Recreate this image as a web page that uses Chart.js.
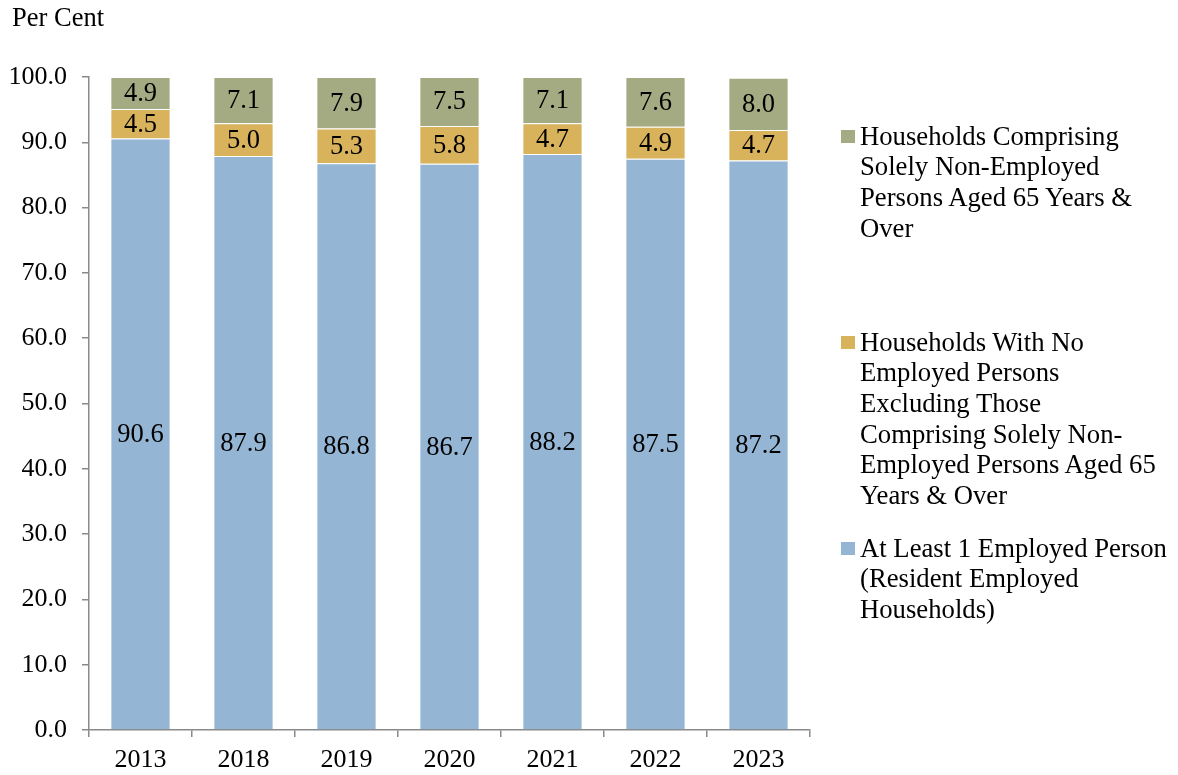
<!DOCTYPE html>
<html>
<head>
<meta charset="utf-8">
<script src="https://cdn.jsdelivr.net/npm/chart.js@4/dist/chart.umd.min.js"></script>
<style>
  html, body { margin: 0; padding: 0; background: #fff; }
  #wrap { position: relative; width: 1178px; height: 775px; font-family: "Liberation Serif", "Times New Roman", serif; color: #000; }
  canvas { position: absolute; left: 0; top: 0; }
  .ytitle { position: absolute; left: 12px; top: 2px; font-size: 26.5px; line-height: 30px; }
  .leg { position: absolute; left: 860px; font-size: 26.7px; line-height: 30.7px; white-space: nowrap; }
  .sw { position: absolute; left: -19px; top: 9px; width: 14px; height: 13px; }
</style>
</head>
<body>
<div id="wrap">
  <canvas id="c" width="1178" height="775"></canvas>
  <div class="ytitle">Per Cent</div>
  <div id="legend"></div>
</div>
<script>
const categories = ["2013", "2018", "2019", "2020", "2021", "2022", "2023"];
const employed = [90.6, 87.9, 86.8, 86.7, 88.2, 87.5, 87.2];
const noEmployedExcl = [4.5, 5.0, 5.3, 5.8, 4.7, 4.9, 4.7];
const solelyElderly = [4.9, 7.1, 7.9, 7.5, 7.1, 7.6, 8.0];
const seriesNames = [
  "At Least 1 Employed Person (Resident Employed Households)",
  "Households With No Employed Persons Excluding Those Comprising Solely Non-Employed Persons Aged 65 Years & Over",
  "Households Comprising Solely Non-Employed Persons Aged 65 Years & Over"
];
const legendLines = [
  ["At Least 1 Employed Person", "(Resident Employed", "Households)"],
  ["Households With No", "Employed Persons", "Excluding Those", "Comprising Solely Non-", "Employed Persons Aged 65", "Years & Over"],
  ["Households Comprising", "Solely Non-Employed", "Persons Aged 65 Years &", "Over"]
];
const colors = ["#94B5D3", "#D9B25C", "#A4AA82"];
const legendTops = [548, 342, 136];

// HTML legend
const lg = document.getElementById('legend');
[2, 1, 0].forEach(i => {
  const d = document.createElement('div');
  d.className = 'leg';
  d.style.top = (legendTops[i] - 15.35) + 'px';
  const sw = document.createElement('span');
  sw.className = 'sw';
  sw.style.background = colors[i];
  d.appendChild(sw);
  d.insertAdjacentHTML('beforeend', legendLines[i].map(s => s.replace(/&/g, '&amp;')).join('<br>'));
  lg.appendChild(d);
});

const valueLabels = {
  id: 'valueLabels',
  afterDatasetsDraw(chart) {
    const ctx = chart.ctx;
    ctx.save();
    ctx.font = '26.5px "Liberation Serif", serif';
    ctx.fillStyle = '#000';
    ctx.textAlign = 'center';
    ctx.textBaseline = 'middle';
    chart.data.datasets.forEach((ds, di) => {
      const meta = chart.getDatasetMeta(di);
      meta.data.forEach((bar, i) => {
        const y = (bar.y + bar.base) / 2;
        ctx.fillText(ds.data[i].toFixed(1), bar.x, y + 1);
      });
    });
    ctx.restore();
  }
};

const axisColor = '#8a8a8a';
new Chart(document.getElementById('c'), {
  type: 'bar',
  data: {
    labels: categories,
    datasets: [
      { label: seriesNames[0], data: employed, backgroundColor: colors[0] },
      { label: seriesNames[1], data: noEmployedExcl, backgroundColor: colors[1] },
      { label: seriesNames[2], data: solelyElderly, backgroundColor: colors[2] }
    ].map(d => Object.assign(d, { borderColor: 'rgba(255,255,255,0.6)', borderWidth: 1, categoryPercentage: 1, barPercentage: 0.585 }))
  },
  options: {
    responsive: false,
    animation: false,
    layout: { padding: { left: 0, right: 368, top: 77, bottom: 0 } },
    plugins: { legend: { display: false }, tooltip: { enabled: false } },
    scales: {
      x: {
        stacked: true,
        afterFit(s) { s.height = 45; },
        grid: { drawOnChartArea: false, drawTicks: true, tickLength: 7, color: axisColor, lineWidth: 1.5, offset: true },
        border: { color: axisColor, width: 1.5 },
        ticks: { color: '#000', padding: 8, font: { family: '"Liberation Serif", serif', size: 26 } }
      },
      y: {
        stacked: true,
        min: 0, max: 100,
        afterFit(s) { s.width = 89; },
        grid: { drawOnChartArea: false, drawTicks: true, tickLength: 7, color: axisColor, lineWidth: 1.5 },
        border: { color: axisColor, width: 1.5 },
        ticks: { stepSize: 10, color: '#000', padding: 15, font: { family: '"Liberation Serif", serif', size: 26 }, callback: v => Number(v).toFixed(1) }
      }
    }
  },
  plugins: [valueLabels]
});
</script>
</body>
</html>
